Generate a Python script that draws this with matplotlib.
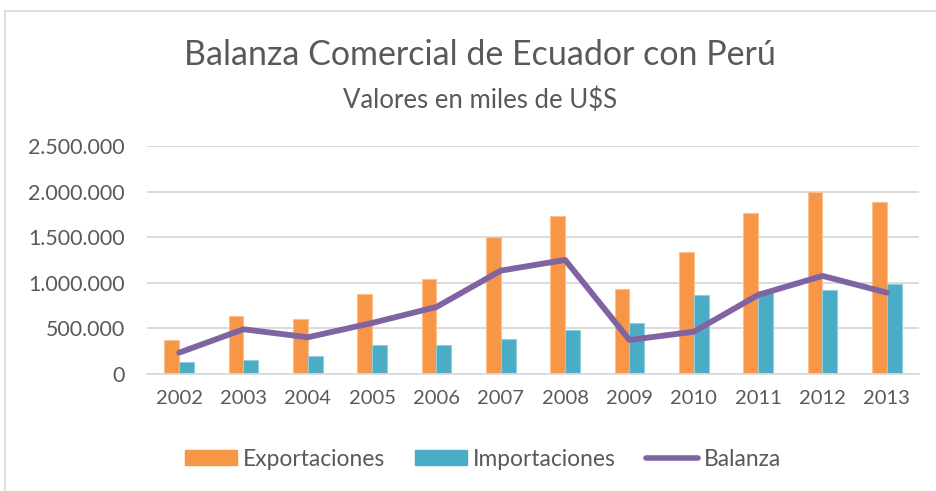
import matplotlib
matplotlib.use("Agg")
import matplotlib.pyplot as plt
import numpy as np
from matplotlib.patches import Rectangle
from matplotlib.lines import Line2D
from matplotlib.ticker import FuncFormatter

years = ["2002", "2003", "2004", "2005", "2006", "2007",
         "2008", "2009", "2010", "2011", "2012", "2013"]
exportaciones = [367000, 637000, 601000, 872000, 1037000, 1500000,
                 1730000, 934000, 1337000, 1766000, 1993000, 1883000]
importaciones = [128000, 147000, 195000, 315000, 312000, 381000,
                 484000, 557000, 861000, 909000, 920000, 989000]
balanza = [231000, 488000, 400000, 557000, 733000, 1132000,
           1249000, 370000, 461000, 865000, 1074000, 890000]

C_EXP = "#F79646"
C_IMP = "#4BACC6"
C_BAL = "#8064A2"
TXT = "#595959"
FONT = "Lato"

W, H = 937, 491
fig = plt.figure(figsize=(W / 100, H / 100), dpi=100)

# chart border
fig.patches.append(Rectangle((5 / W, -0.05), 1.1, 1 - 11 / H + 0.05,
                             transform=fig.transFigure, fill=False,
                             edgecolor="#D9D9D9", linewidth=1.2))

ax = fig.add_axes([147 / W, (H - 373.7) / H, (919 - 147) / W, (373.7 - 146) / H])

x = np.arange(len(years))
bw = 0.233
ax.bar(x - bw / 2, exportaciones, width=bw, color=C_EXP,
       edgecolor="#FAC090", linewidth=0.8, zorder=2)
ax.bar(x + bw / 2, importaciones, width=bw, color=C_IMP,
       edgecolor="#93CDDD", linewidth=0.8, zorder=2)
ax.plot(x, balanza, color=C_BAL, linewidth=4.2, solid_capstyle="round",
        solid_joinstyle="round", zorder=3)

ax.set_xlim(-0.5, len(years) - 0.5)
ax.set_ylim(0, 2500000)
ax.set_yticks(np.arange(0, 2500001, 500000))
ax.yaxis.set_major_formatter(FuncFormatter(lambda v, p: f"{int(v):,}".replace(",", ".")))
ax.set_xticks(x)
ax.set_xticklabels(years)
ax.grid(axis="y", color="#D9D9D9", linewidth=1.3, zorder=0)
ax.set_axisbelow(True)
for s in ["top", "right", "left"]:
    ax.spines[s].set_visible(False)
ax.spines["bottom"].set_color("#D9D9D9")
ax.spines["bottom"].set_linewidth(1.3)
ax.tick_params(axis="x", length=0, labelsize=14.5, colors=TXT, pad=12)
ax.tick_params(axis="y", length=0, labelsize=15.4, colors=TXT, pad=16)
for lab in ax.get_xticklabels() + ax.get_yticklabels():
    lab.set_fontfamily(FONT)

fig.text(480 / W, 1 - 55 / H, "Balanza Comercial de Ecuador con Perú",
         ha="center", va="center", fontsize=24.5, color=TXT,
         fontfamily=FONT)
fig.text(480 / W, 1 - 100 / H, "Valores en miles de U$S",
         ha="center", va="center", fontsize=18.5, color=TXT,
         fontfamily=FONT)

handles = [Rectangle((0, 0), 1, 1, color=C_EXP),
           Rectangle((0, 0), 1, 1, color=C_IMP),
           Line2D([0], [0], color=C_BAL, linewidth=4, solid_capstyle="round")]
leg = fig.legend(handles, ["Exportaciones", "Importaciones", "Balanza"],
                 loc="center", bbox_to_anchor=(483 / W, 1 - 459 / H), ncol=3,
                 frameon=False, handlelength=2.3, handleheight=0.6,
                 handletextpad=0.25, columnspacing=1.3,
                 prop={"family": FONT, "size": 16.4})
for t in leg.get_texts():
    t.set_color(TXT)

fig.savefig("out.png", dpi=100)
